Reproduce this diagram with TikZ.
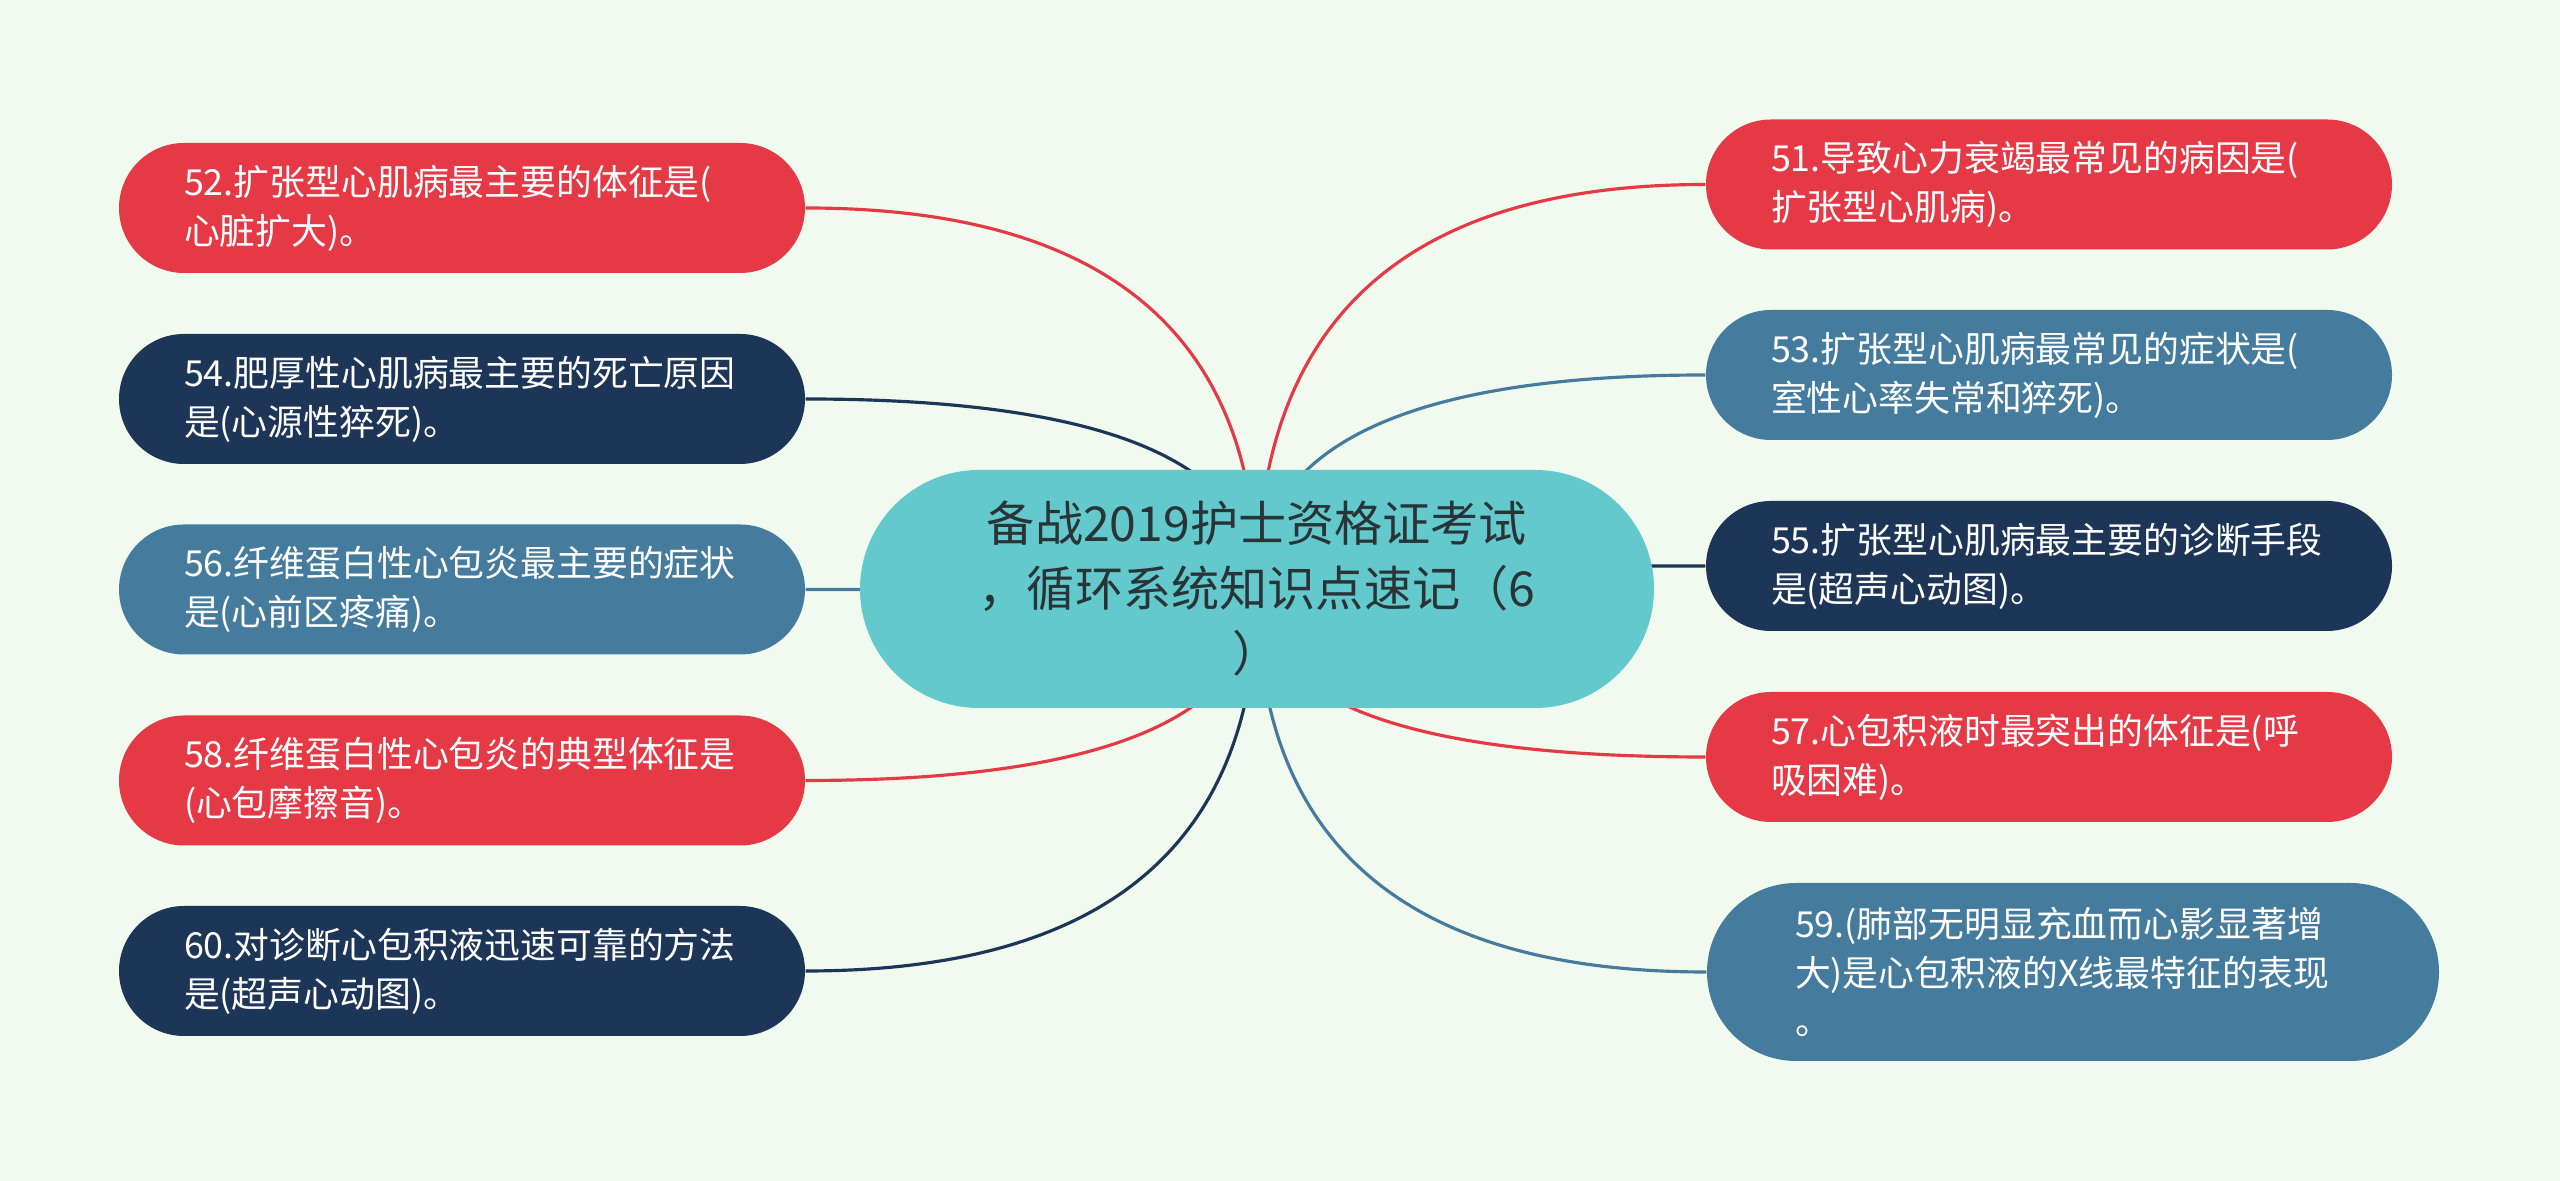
\documentclass[tikz,border=0pt]{standalone}
\usepackage{fontspec}
\setmainfont{Noto Sans CJK SC}
\definecolor{mPaper}{RGB}{241,250,238}
\definecolor{mRed}{RGB}{230,57,70}
\definecolor{mSteel}{RGB}{69,123,157}
\definecolor{mNavy}{RGB}{29,53,87}
\definecolor{mTeal}{RGB}{99,201,204}
\definecolor{mInk}{RGB}{40,52,54}
\usetikzlibrary{calc}
\pgfdeclarelayer{paper}
\pgfdeclarelayer{links}
\pgfsetlayers{paper,links,main}

\begin{document}
\begin{tikzpicture}[
    leaf/.style={rectangle, rounded corners=0.65cm, minimum height=1.30cm,
      text width=5.56cm, inner xsep=0.65cm, inner ysep=0pt, align=left,
      text=white, font=\fontsize{10.2pt}{13.9pt}\selectfont},
    root/.style={rectangle, rounded corners=1.19cm, fill=mTeal, text=mInk,
      minimum width=7.94cm, minimum height=2.38cm, text width=7cm,
      inner xsep=0pt, align=center, font=\fontsize{13.7pt}{18.5pt}\selectfont},
    link/.style={line width=0.9pt}]
    % Paper
    \begin{pgfonlayer}{paper}
      \fill[mPaper] (0,0) rectangle (25.6,11.81);
    \end{pgfonlayer}
    % Centre
    \node[root] (root) at (12.57,5.92) {备战2019护士资格证考试\\，循环系统知识点速记（6\\）};
    % Left side
    \node[leaf, fill=mRed] (n52) at (4.62,9.73) {52.扩张型心肌病最主要的体征是(\\心脏扩大)。};
    \node[leaf, fill=mNavy] (n54) at (4.62,7.82) {54.肥厚性心肌病最主要的死亡原因\\是(心源性猝死)。};
    \node[leaf, fill=mSteel] (n56) at (4.62,5.915) {56.纤维蛋白性心包炎最主要的症状\\是(心前区疼痛)。};
    \node[leaf, fill=mRed] (n58) at (4.62,4.005) {58.纤维蛋白性心包炎的典型体征是\\(心包摩擦音)。};
    \node[leaf, fill=mNavy] (n60) at (4.62,2.10) {60.对诊断心包积液迅速可靠的方法\\是(超声心动图)。};
    % Right side
    \node[leaf, fill=mRed] (n51) at (20.49,9.965) {51.导致心力衰竭最常见的病因是(\\扩张型心肌病)。};
    \node[leaf, fill=mSteel] (n53) at (20.49,8.06) {53.扩张型心肌病最常见的症状是(\\室性心率失常和猝死)。};
    \node[leaf, fill=mNavy] (n55) at (20.49,6.15) {55.扩张型心肌病最主要的诊断手段\\是(超声心动图)。};
    \node[leaf, fill=mRed] (n57) at (20.49,4.24) {57.心包积液时最突出的体征是(呼\\吸困难)。};
    \node[leaf, fill=mSteel, rounded corners=0.89cm, minimum height=1.78cm,
      inner xsep=0.88cm] (n59) at (20.73,2.09) {59.(肺部无明显充血而心影显著增\\大)是心包积液的X线最特征的表现\\。};
    % Links
    \begin{pgfonlayer}{links}
      \foreach \leafname/\leafcol in {n52/mRed,n54/mNavy,n56/mSteel,n58/mRed,n60/mNavy}
        \draw[link, \leafcol] (root.center)
          .. controls ($(root.center)!0.667!(root.center |- \leafname.east)$)
          and ($(\leafname.east)!0.667!(root.center |- \leafname.east)$) .. (\leafname.east);
      \foreach \leafname/\leafcol in {n51/mRed,n53/mSteel,n55/mNavy,n57/mRed,n59/mSteel}
        \draw[link, \leafcol] (root.center)
          .. controls ($(root.center)!0.667!(root.center |- \leafname.west)$)
          and ($(\leafname.west)!0.667!(root.center |- \leafname.west)$) .. (\leafname.west);
    \end{pgfonlayer}
  \end{tikzpicture}
\end{document}
